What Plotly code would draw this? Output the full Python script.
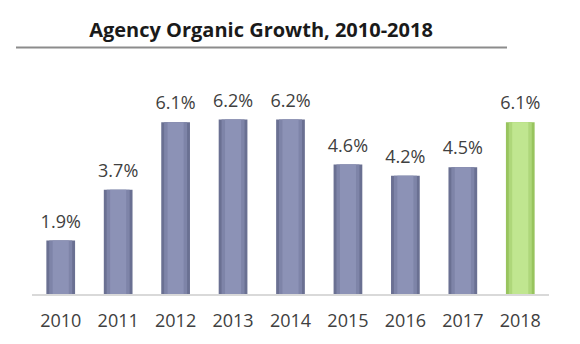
import plotly.graph_objects as go

years = ["2010", "2011", "2012", "2013", "2014", "2015", "2016", "2017", "2018"]
growth = [1.9, 3.7, 6.1, 6.2, 6.2, 4.6, 4.2, 4.5, 6.1]
labels = ["1.9%", "3.7%", "6.1%", "6.2%", "6.2%", "4.6%", "4.2%", "4.5%", "6.1%"]

edge = ["#6A7092"] * 8 + ["#98C45E"]
mid = ["#7E84A8"] * 8 + ["#AED77A"]
core = ["#8C92B6"] * 8 + ["#C0E690"]

fig = go.Figure()
fig.add_trace(go.Bar(x=years, y=growth, width=0.5, marker=dict(color=edge, line=dict(width=0)), hoverinfo="skip"))
fig.add_trace(go.Bar(x=years, y=growth, width=0.4, marker=dict(color=mid, line=dict(width=0)), hoverinfo="skip"))
fig.add_trace(go.Bar(x=years, y=growth, width=0.28, marker=dict(color=core, line=dict(width=0)), hoverinfo="skip"))
fig.add_trace(go.Scatter(x=years, y=growth, mode="markers+text", text=labels, textposition="top center",
                         marker=dict(size=12, opacity=0), cliponaxis=False,
                         textfont=dict(family="Open Sans", size=18, color="#404040"), hoverinfo="skip"))

fig.update_layout(
    width=580, height=344,
    barmode="overlay",
    showlegend=False,
    paper_bgcolor="white", plot_bgcolor="white",
    margin=dict(l=32, r=31, t=97, b=48),
    title=dict(text="<b>Agency Organic Growth, 2010-2018</b>", x=261/580, xanchor="center",
               y=1 - 30/344, yanchor="middle",
               font=dict(family="Open Sans", size=20, color="#1a1a1a")),
)
fig.update_xaxes(showgrid=False, showline=True, linecolor="#D9D9D9", linewidth=2, range=[-0.5, 8.5],
                 ticks="", ticklabelstandoff=9,
                 tickfont=dict(family="Open Sans", size=18, color="#404040"))
fig.update_yaxes(range=[0, 7], visible=False, showgrid=False, zeroline=False)

fig.add_shape(type="line", xref="paper", yref="paper",
              x0=(16 - 32) / 517, x1=(507 - 32) / 517, y0=(296 - 47) / 199, y1=(296 - 47) / 199,
              line=dict(color="#8C8C8C", width=2))

fig.write_html("out.html")
